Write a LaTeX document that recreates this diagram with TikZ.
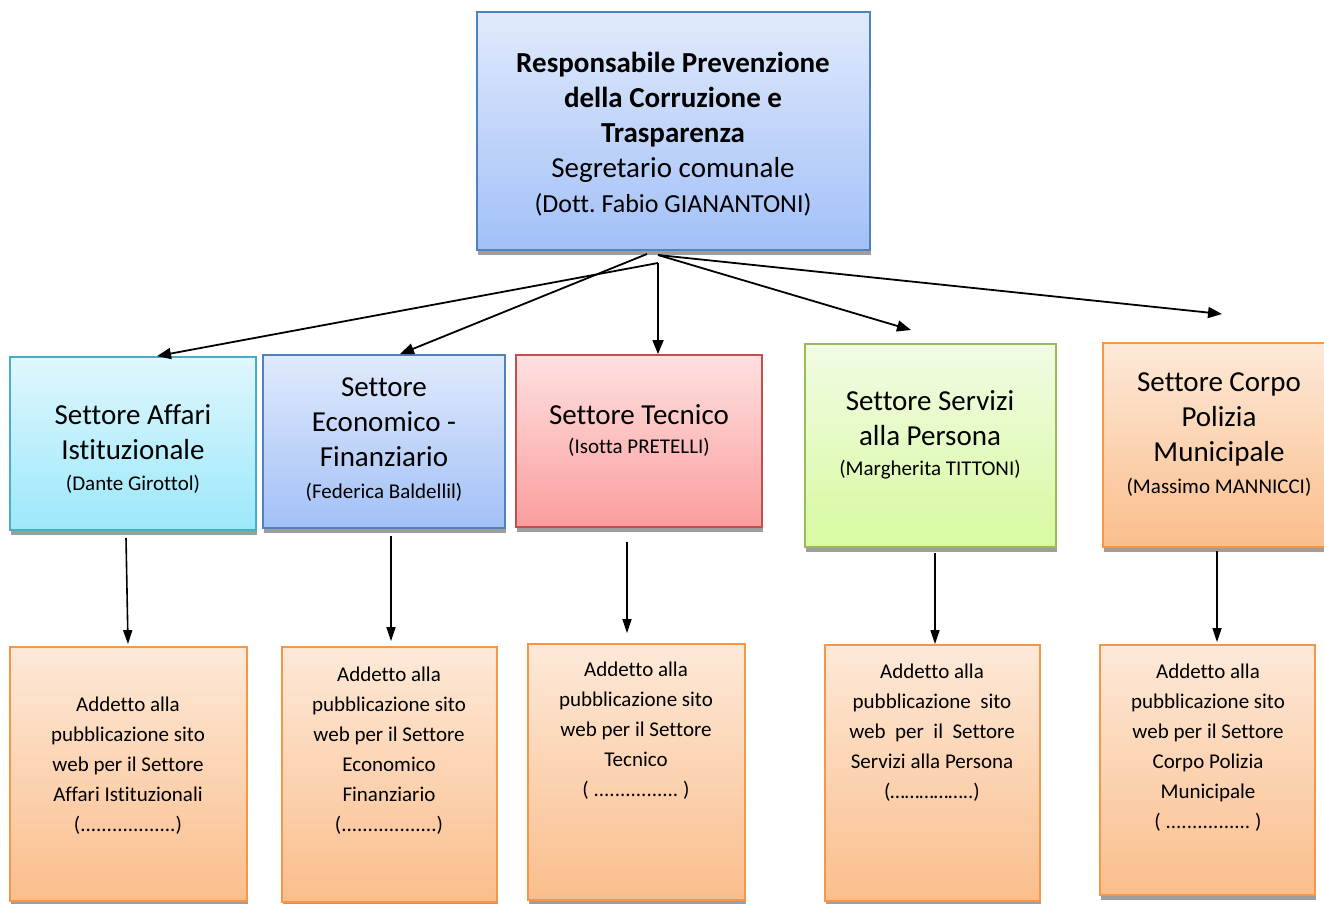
\documentclass[tikz,border=0pt]{standalone}
\usepackage{fontspec}
\setmainfont{Carlito}[Ligatures=NoCommon]
\usetikzlibrary{arrows.meta,shadows}
\definecolor{blueline}{RGB}{79,129,189}
\definecolor{blueT}{RGB}{224,234,252}
\definecolor{blueB}{RGB}{162,192,247}
\definecolor{cyanline}{RGB}{75,172,198}
\definecolor{cyanT}{RGB}{224,247,253}
\definecolor{cyanB}{RGB}{155,232,250}
\definecolor{redline}{RGB}{192,80,77}
\definecolor{redT}{RGB}{255,224,224}
\definecolor{redB}{RGB}{250,158,158}
\definecolor{greenline}{RGB}{155,187,89}
\definecolor{greenT}{RGB}{242,251,228}
\definecolor{greenB}{RGB}{215,250,160}
\definecolor{orangeline}{RGB}{247,150,70}
\definecolor{orangeT}{RGB}{253,233,216}
\definecolor{orangeB}{RGB}{250,190,140}
\newcommand{\nome}[1]{{\fontsize{21}{30}\selectfont #1}}
\frenchspacing
\begin{document}
\begin{tikzpicture}[x=1pt, y=-1pt,
        orgbox/.style={rectangle, line width=1.8pt, inner sep=0pt, drop shadow={shadow xshift=1pt, shadow yshift=-5pt, fill=black!38, opacity=1}},
        bluebox/.style={orgbox, draw=blueline, top color=blueT, bottom color=blueB},
        cyanbox/.style={orgbox, draw=cyanline, top color=cyanT, bottom color=cyanB},
        redbox/.style={orgbox, draw=redline, top color=redT, bottom color=redB},
        greenbox/.style={orgbox, draw=greenline, top color=greenT, bottom color=greenB},
        orangebox/.style={orgbox, draw=orangeline, top color=orangeT, bottom color=orangeB},
        title/.style={anchor=north, align=center, inner sep=0pt, font=\fontsize{29}{35}\selectfont},
        addtext/.style={anchor=north, align=center, inner sep=0pt, font=\fontsize{21}{30}\selectfont},
        arr/.style={-{Triangle[length=14pt, width=11pt]}, line width=1.8pt},
        downarr/.style={-{Triangle[length=14pt, width=9pt]}, line width=1.6pt},
    ]
	\useasboundingbox (0,0) rectangle (1324,903);

	\node[bluebox, minimum width=393pt, minimum height=238pt] (top) at (673.5,131) {};
	\node[title] (topt) at (673,52) {\textbf{Responsabile Prevenzione}\\ \textbf{della Corruzione e}\\ \textbf{Trasparenza}\\ Segretario comunale\\ {\fontsize{26}{35}\selectfont (Dott. Fabio GIANANTONI)}};

	\node[cyanbox, minimum width=246pt, minimum height=173pt] (s1) at (133,443.5) {};
	\node[bluebox, minimum width=242pt, minimum height=173pt] (s2) at (384,441.5) {};
	\node[redbox, minimum width=246pt, minimum height=172pt] (s3) at (639,441) {};
	\node[greenbox, minimum width=251pt, minimum height=203pt] (s4) at (930.5,445.5) {};
	\node[orangebox, minimum width=232pt, minimum height=204pt] (s5) at (1219,445) {};

	\node[title] (t1) at (133,404) {Settore Affari\\ Istituzionale\\[-4pt] \nome{(Dante Girottol)}};
	\node[title] (t2) at (384,377) {Settore\\ Economico -\\ Finanziario\\[-3pt] \nome{(Federica Baldellil)}};
	\node[title] (t3) at (639,404) {Settore Tecnico\\[-6pt] \nome{(Isotta PRETELLI)}};
	\node[title] (t4) at (930,390) {Settore Servizi\\ alla Persona\\[-5pt] \nome{(Margherita TITTONI)}};
	\node[title] (t5) at (1219,372) {Settore Corpo\\ Polizia\\ Municipale\\[-3pt] \nome{(Massimo MANNICCI)}};

	\node[orangebox, minimum width=237pt, minimum height=254pt] (w1) at (128.5,774) {};
	\node[orangebox, minimum width=215pt, minimum height=255pt] (w2) at (389.5,774.5) {};
	\node[orangebox, minimum width=217pt, minimum height=256pt] (w3) at (636.5,772) {};
	\node[orangebox, minimum width=215pt, minimum height=256pt] (w4) at (932.5,773) {};
	\node[orangebox, minimum width=215pt, minimum height=250pt] (w5) at (1207.5,770) {};

	\node[addtext] (b1) at (128,697) {Addetto alla\\ pubblicazione sito\\ web per il Settore\\ Affari Istituzionali\\ (..................)};
	\node[addtext] (b2) at (389,667) {Addetto alla\\ pubblicazione sito\\ web per il Settore\\ Economico\\ Finanziario\\ (..................)};
	\node[addtext] (b3) at (636,662) {Addetto alla\\ pubblicazione sito\\ web per il Settore\\ Tecnico\\ ( ................ )};
	\node[addtext] (b4) at (932,664) {Addetto alla\\ pubblicazione\ \ sito\\ web\ \ per\ \ il\ \ Settore\\ Servizi alla Persona\\ (……………..)};
	\node[addtext] (b5) at (1208,664) {Addetto alla\\ pubblicazione sito\\ web per il Settore\\ Corpo Polizia\\ Municipale\\ ( ................ )};

	\coordinate (h1) at (658,263);
	\coordinate (h2) at (647,254);
	\coordinate (h3) at (658,255);
	\coordinate (e4) at (911,330);
	\coordinate (e5) at (1222,314);

	\draw[arr] (h1) -- ([xshift=24pt]s1.north);
	\draw[arr] (h2) -- ([xshift=16pt]s2.north);
	\draw[arr] (h1) -- (s3.north -| h1);
	\draw[arr] (h3) -- (e4);
	\draw[arr] (h3) -- (e5);

	\draw[downarr] ([shift={(-7,7)}]s1.south) -- ([shift={(-0.5,-2)}]w1.north);
	\draw[downarr] ([shift={(7,7.5)}]s2.south) -- ([shift={(1.5,-5)}]w2.north);
	\draw[downarr] ([shift={(-12,14)}]s3.south) -- ([shift={(-9.5,-10)}]w3.north);
	\draw[downarr] ([shift={(4.5,5)}]s4.south) -- ([shift={(2.5,0)}]w4.north);
	\draw[downarr] ([shift={(-2,3)}]s5.south) -- ([shift={(9.5,-2)}]w5.north);

    \end{tikzpicture}
\end{document}
